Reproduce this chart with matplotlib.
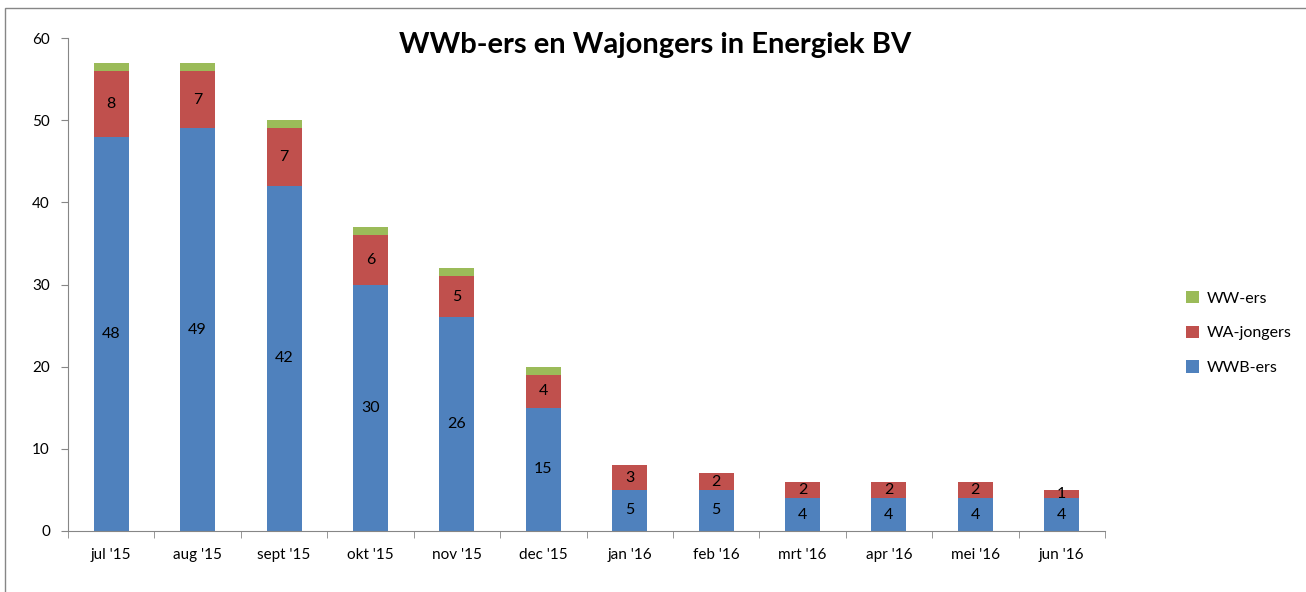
import matplotlib.pyplot as plt
import numpy as np
from matplotlib.patches import Rectangle

plt.rcParams['font.family'] = ['Lato', 'DejaVu Sans']

maanden = ["jul '15", "aug '15", "sept '15", "okt '15", "nov '15", "dec '15",
           "jan '16", "feb '16", "mrt '16", "apr '16", "mei '16", "jun '16"]
wwb_ers = [48, 49, 42, 30, 26, 15, 5, 5, 4, 4, 4, 4]
wa_jongers = [8, 7, 7, 6, 5, 4, 3, 2, 2, 2, 2, 1]
ww_ers = [1, 1, 1, 1, 1, 1, 0, 0, 0, 0, 0, 0]

blauw, rood, groen = '#4F81BD', '#C0504D', '#9BBB59'
grijs = '#868686'

fig = plt.figure(figsize=(13.06, 5.92), dpi=100)
# rand om de hele grafiek
fig.patches.append(Rectangle((5 / 1306, -0.01), 1.02, 1 - 8 / 592 + 0.01,
                             transform=fig.transFigure, fill=False,
                             edgecolor=grijs, linewidth=1))
ax = fig.add_axes([68 / 1306, 61 / 592, (1105 - 68) / 1306, (531 - 38) / 592])

x = np.arange(len(maanden))
w = 0.405
b1 = ax.bar(x, wwb_ers, w, color=blauw, label='WWB-ers')
b2 = ax.bar(x, wa_jongers, w, bottom=wwb_ers, color=rood, label='WA-jongers')
bodem = np.array(wwb_ers) + np.array(wa_jongers)
b3 = ax.bar(x, ww_ers, w, bottom=bodem, color=groen, label='WW-ers')

for i in range(len(maanden)):
    ax.text(x[i], wwb_ers[i] / 2, str(wwb_ers[i]), ha='center', va='center', fontsize=11.5)
    ax.text(x[i], wwb_ers[i] + wa_jongers[i] / 2, str(wa_jongers[i]),
            ha='center', va='center', fontsize=11.5)

ax.set_xlim(-0.5, len(maanden) - 0.5)
ax.set_ylim(0, 60)
ax.set_yticks(range(0, 61, 10))
ax.set_xticks(x)
ax.set_xticklabels(maanden, fontsize=11)
ax.set_xticks(np.arange(-0.5, len(maanden), 1), minor=True)
ax.tick_params(axis='x', which='major', length=0, pad=12)
ax.tick_params(axis='x', which='minor', length=5, color=grijs, direction='out')
ax.tick_params(axis='y', length=5, color=grijs, labelsize=11, pad=8)
for s in ['top', 'right']:
    ax.spines[s].set_visible(False)
for s in ['left', 'bottom']:
    ax.spines[s].set_color(grijs)

fig.text(655 / 1306, 1 - 45 / 592, 'WWb-ers en Wajongers in Energiek BV',
         ha='center', va='center', fontsize=21, fontweight='bold')

h = [b3, b2, b1]
fig.legend(h, [b.get_label() for b in h], loc='center left',
           bbox_to_anchor=(1172 / 1306, 1 - 333 / 592), frameon=False,
           fontsize=11.5, handlelength=0.8, handleheight=0.8, labelspacing=1.25,
           handletextpad=0.5)

fig.savefig('out.png', dpi=100)
